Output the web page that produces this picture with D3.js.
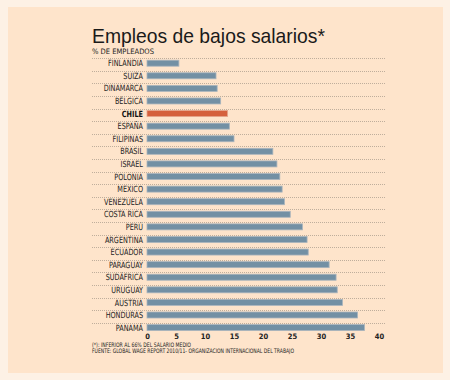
<!DOCTYPE html>
<html><head><meta charset="utf-8">
<script src="https://cdn.jsdelivr.net/npm/d3@7"></script>
<style>
html,body{margin:0;padding:0;background:#fdf1e5;}
svg{display:block;}
</style></head>
<body>
<script>
const countries = ["FINLANDIA","SUIZA","DINAMARCA","BÉLGICA","CHILE","ESPAÑA","FILIPINAS","BRASIL","ISRAEL","POLONIA","MEXICO","VENEZUELA","COSTA RICA","PERÚ","ARGENTINA","ECUADOR","PARAGUAY","SUDÁFRICA","URUGUAY","AUSTRIA","HONDURAS","PANAMÁ"];
const values = [5.5,11.9,12.1,12.7,13.9,14.2,15.0,21.7,22.4,22.9,23.3,23.7,24.7,26.8,27.6,27.8,31.4,32.6,32.8,33.7,36.3,37.5];
const highlight = ["CHILE"];
const ticks = [0,5,10,15,20,25,30,35,40];
const title = "Empleos de bajos salarios*";
const subtitle = "% DE EMPLEADOS";
const notes = ["(*): INFERIOR AL 66% DEL SALARIO MEDIO","FUENTE: GLOBAL WAGE REPORT 2010/11- ORGANIZACION INTERNACIONAL DEL TRABAJO"];

const W = 450, H = 380;
const svg = d3.select("body").append("svg").attr("width", W).attr("height", H);
svg.append("rect").attr("x",0).attr("y",0).attr("width",W).attr("height",H).attr("fill","#fdf1e5");
svg.append("rect").attr("x",8).attr("y",7).attr("width",435).attr("height",366).attr("fill","#fee4cb");

const x = d3.scaleLinear().domain([0,40]).range([147,379]);
const y = d3.scaleBand().domain(countries).range([58.3, 58.3 + 12.59*countries.length]).padding(0);

const font = "'Liberation Sans Narrow','DejaVu Sans Condensed','Liberation Sans',sans-serif";

svg.append("text").attr("x",92).attr("y",43).attr("font-family","'Liberation Sans',sans-serif")
  .attr("font-size",21).attr("fill","#1a1a1a").attr("textLength",233).attr("lengthAdjust","spacingAndGlyphs").text(title);
svg.append("text").attr("x",92).attr("y",54).attr("font-family",font).attr("font-size",7.5)
  .attr("fill","#222").attr("textLength",62).attr("lengthAdjust","spacingAndGlyphs").text(subtitle);

// dotted row lines
svg.append("g").selectAll("line").data(countries).join("line")
  .attr("x1",92).attr("x2",385)
  .attr("y1",d=>Math.round(y(d))+0.5).attr("y2",d=>Math.round(y(d))+0.5)
  .attr("stroke","#bfae9c").attr("stroke-width",1).attr("stroke-dasharray","1,1");

// bars
svg.append("g").selectAll("rect").data(countries).join("rect")
  .attr("x",x(0)).attr("y",d=>y(d)+1.9)
  .attr("width",(d,i)=>x(values[i])-x(0)).attr("height",6)
  .attr("fill",d=>highlight.includes(d)?"#d5603c":"#7390a4")
  .attr("stroke",d=>highlight.includes(d)?"#e4a68d":"#aab5bd").attr("stroke-width",0.8);

// labels (horizontally condensed)
svg.append("g").attr("transform","translate(143,0) scale(0.85,1)")
  .selectAll("text").data(countries).join("text")
  .attr("x",0).attr("y",d=>y(d)+8)
  .attr("text-anchor","end").attr("font-family",font)
  .attr("font-size",8.5).attr("font-weight",d=>highlight.includes(d)?"bold":"normal")
  .attr("fill",d=>highlight.includes(d)?"#111":"#222").text(d=>d);

// x axis
const ax = svg.append("g").attr("transform","translate(0,334)")
  .call(d3.axisBottom(x).tickValues(ticks).tickSize(0).tickPadding(0));
ax.select(".domain").remove();
ax.selectAll("text").attr("font-family",font).attr("font-size",7.5).attr("font-weight","bold").attr("fill","#222").attr("dy","0.71em");

// notes
svg.append("text").attr("x",92).attr("y",347).attr("font-family",font).attr("font-size",6.2)
  .attr("fill","#222").attr("textLength",99).attr("lengthAdjust","spacingAndGlyphs").text(notes[0]);
svg.append("text").attr("x",92).attr("y",352.5).attr("font-family",font).attr("font-size",6.2)
  .attr("fill","#222").attr("textLength",202).attr("lengthAdjust","spacingAndGlyphs").text(notes[1]);
</script>
</body></html>
